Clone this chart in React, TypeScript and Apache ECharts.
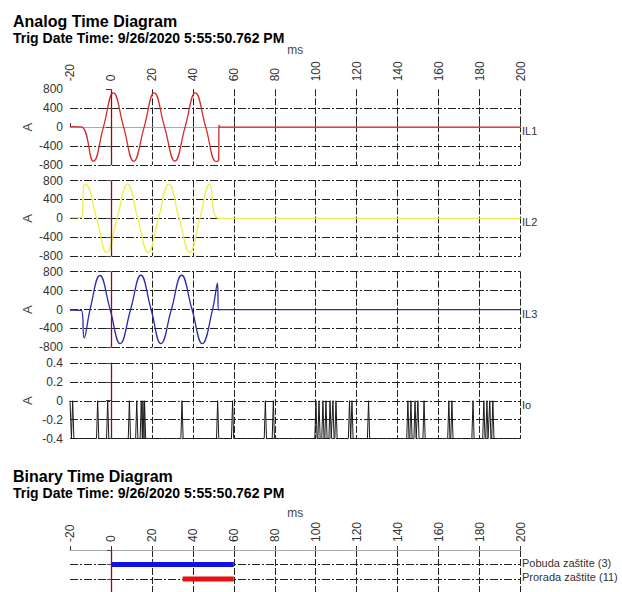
import React, { useEffect, useRef } from 'react';
import * as echarts from 'echarts';

const FONT = '"Liberation Sans", Arial, Helvetica, sans-serif';

// ---- axes ----
const X_MIN = -20;
const X_MAX = 200;
const X_STEP = 20;
const ANALOG_RANGE = [-800, 800, 400];
const IO_RANGE = [-0.4, 0.4, 0.2];
const TRIGGER_TIME = 0;

// ---- analog waveforms [ms, A] ----
const il1: [number, number][] = [
  [-20, 10], [-14.5, 5], [-8.6, -720], [-3.7, 0], [1.2, 725], [6.2, 0], [11.1, -720],
  [16.2, 0], [21.1, 725], [26.2, 0], [31.2, -720], [36.2, 0], [41.2, 725], [46.3, 0],
  [51.4, -725], [52.6, -700], [52.8, 40], [53.5, 0], [200, 0],
];
const il2: [number, number][] = [
  [-20, 15], [-14.3, 20], [-13.3, 680], [-12.4, 720], [-7, 0], [-2.1, -720], [3, 0],
  [8.1, 725], [13.1, 0], [18.2, -720], [23.2, 0], [28.2, 725], [33.3, 0], [38.5, -720],
  [43.4, 0], [48.2, 725], [52.6, 0], [200, 0],
];
const il3: [number, number][] = [
  [-20, -10], [-14.4, -20], [-13.1, -600], [-10.2, 0], [-5.4, 720], [-0.4, 0], [4.5, -720],
  [9.6, 0], [14.6, 725], [19.6, 0], [24.4, -720], [29.5, 0], [34.5, 725], [39.6, 0],
  [44.6, -720], [49.6, 0], [52.0, 560], [52.5, -10], [53.5, 0], [200, 0],
];
const ioStart: [number, number][] = [[-20, 0], [-19.3, -0.4], [-18.7, 0], [-18.1, -0.4]];
const ioSpikeTimes = [
  -6.5, -1.6, 9.0, 12.6, 14.8, 15.6, 16.4, 34.7, 52.1, 59.4, 75.4, 79.3,
  100.1, 101.6, 103.5, 105, 107, 108.4, 109.9, 116.5, 117.7, 125.8,
  145, 146.5, 148.5, 149.9, 152.9, 165, 166.5, 176.8, 182.1, 183.6, 185, 186.5,
];
const IO_LOW = -0.4;
const IO_HIGH = 0;
const IO_HALF_WIDTH = 0.55;

const analogNames = ['IL1', 'IL2', 'IL3', 'Io'];
const analogColors = ['#d42a2a', '#eeee44', '#2a2aaa', '#1a1a1a'];

// ---- binary signals ----
const binaryNames = ['Pobuda zaštite (3)', 'Prorada zaštite (11)'];
const binaryRow = [1, 2];
const binaryStart = [0, 35];
const binaryEnd = [60, 60];
const binaryColors = ['#1010e6', '#e61010'];

const titleText = 'Analog Time Diagram';
const binaryTitleText = 'Binary Time Diagram';
const trigText = 'Trig Date Time: 9/26/2020 5:55:50.762 PM';

function buildIo(): [number, number][] {
  const out: [number, number][] = ioStart.map((p) => [p[0], p[1]] as [number, number]);
  ioSpikeTimes.forEach((t) => {
    out.push([t - IO_HALF_WIDTH, IO_LOW], [t, IO_HIGH], [t + IO_HALF_WIDTH, IO_LOW]);
  });
  out.push([X_MAX, IO_LOW]);
  return out;
}

export default function App() {
  const ref = useRef<HTMLDivElement>(null);
  useEffect(() => {
    if (!ref.current) return;
    const chart = echarts.init(ref.current, undefined, { renderer: 'svg' });

    const analogTops = [89.3, 180.5, 271.7, 362.9];
    const panelH = 75.7;
    const grids: any[] = analogTops.map((top) => ({ left: 70, top, width: 450.5, height: panelH, containLabel: false, outerBoundsMode: 'none' }));
    grids.push({ left: 70, top: 550, width: 450.5, height: 58, containLabel: false, outerBoundsMode: 'none' });

    const hLine = { color: '#222', width: 1, type: [8, 2, 2, 2] };
    const vLine = { color: '#222', width: 1, type: [7, 2] };

    const xAxes = grids.map((_, i) => {
      const shown = i === 0 || i === 4;
      return {
        type: 'value', gridIndex: i, min: X_MIN, max: X_MAX, interval: X_STEP, position: 'top',
        axisLine: { show: shown, lineStyle: { color: '#aaa', width: 1 } },
        axisTick: { show: shown, length: 4, lineStyle: { color: '#333' } },
        axisLabel: { show: shown, rotate: 90, margin: 8, fontSize: 12, color: '#333', fontFamily: FONT },
        name: shown ? 'ms' : '',
        nameLocation: 'middle',
        nameGap: i === 0 ? 33 : 31,
        nameMoveOverlap: false,
        nameTextStyle: { fontSize: 12, color: '#444', fontFamily: FONT },
        splitLine: { show: true, showMinLine: false, lineStyle: vLine },
      };
    });

    const yAxes: any[] = analogTops.map((_, i) => {
      const r = i < 3 ? ANALOG_RANGE : IO_RANGE;
      return {
        type: 'value', gridIndex: i, min: r[0], max: r[1], interval: r[2],
        axisLine: { show: true, lineStyle: { color: '#aaa' } },
        axisTick: { show: true, length: 5, lineStyle: { color: '#444' } },
        axisLabel: { margin: 7, fontSize: 12, color: '#333', fontFamily: FONT },
        name: 'A', nameLocation: 'middle', nameGap: 36, nameMoveOverlap: false,
        nameTextStyle: { fontSize: 13, color: '#444', fontFamily: FONT },
        splitLine: { show: true, showMaxLine: i !== 0, lineStyle: hLine },
      };
    });
    yAxes.push({
      type: 'value', gridIndex: 4, min: 0, max: 4, interval: 1, inverse: true,
      axisLine: { show: true, lineStyle: { color: '#ccc' } },
      axisTick: { show: true, length: 4, lineStyle: { color: '#444' } },
      axisLabel: { show: false },
      splitLine: { show: true, showMinLine: false, lineStyle: hLine },
    });

    const trig = {
      symbol: ['none', 'none'], silent: true, label: { show: false },
      lineStyle: { color: '#9b0a0a', width: 1.3, type: 'solid' },
      data: [{ xAxis: TRIGGER_TIME }],
    };
    const tag = (text: string, y: number, dy: number) => ({
      symbol: 'rect', symbolSize: 1, silent: true,
      itemStyle: { color: 'rgba(0,0,0,0)' },
      label: { show: true, position: 'right', distance: 1, offset: [0, dy], formatter: text, color: '#333', fontSize: 11, fontFamily: FONT },
      data: [{ coord: [X_MAX, y] }],
    });

    const analogData = [il1, il2, il3, buildIo()];
    const series: any[] = analogData.map((d, i) => ({
      type: 'line', xAxisIndex: i, yAxisIndex: i, data: d,
      smooth: i < 3 ? 0.45 : false, symbol: 'none', showSymbol: false,
      lineStyle: { color: analogColors[i], width: i < 3 ? 1.3 : 1 },
      markLine: trig,
      markPoint: tag(analogNames[i], 0, 4),
    }));
    binaryNames.forEach((name, k) => {
      series.push({
        type: 'line', xAxisIndex: 4, yAxisIndex: 4,
        data: [[binaryStart[k], binaryRow[k]], [binaryEnd[k], binaryRow[k]]],
        symbol: 'none', showSymbol: false,
        lineStyle: { color: binaryColors[k], width: 5, cap: 'butt' },
        markLine: k === 0 ? trig : undefined,
        markPoint: tag(name, binaryRow[k], -2),
      });
    });

    const titleStyle = (text: string, size: number) => ({
      text, fill: '#000', font: `bold ${size}px ${FONT}`, align: 'left', verticalAlign: 'middle',
    });

    chart.setOption({
      animation: false,
      textStyle: { fontFamily: FONT },
      grid: grids,
      xAxis: xAxes,
      yAxis: yAxes,
      series,
      graphic: [
        { type: 'text', x: 13, y: 21, style: titleStyle(titleText, 16) },
        { type: 'text', x: 13, y: 37.5, style: titleStyle(trigText, 14) },
        { type: 'text', x: 13, y: 476, style: titleStyle(binaryTitleText, 16) },
        { type: 'text', x: 13, y: 492.5, style: titleStyle(trigText, 14) },
      ],
    });
    return () => chart.dispose();
  }, []);
  return <div ref={ref} style={{ position: 'absolute', left: 0, top: 0, width: 622, height: 592, background: '#fff' }} />;
}
